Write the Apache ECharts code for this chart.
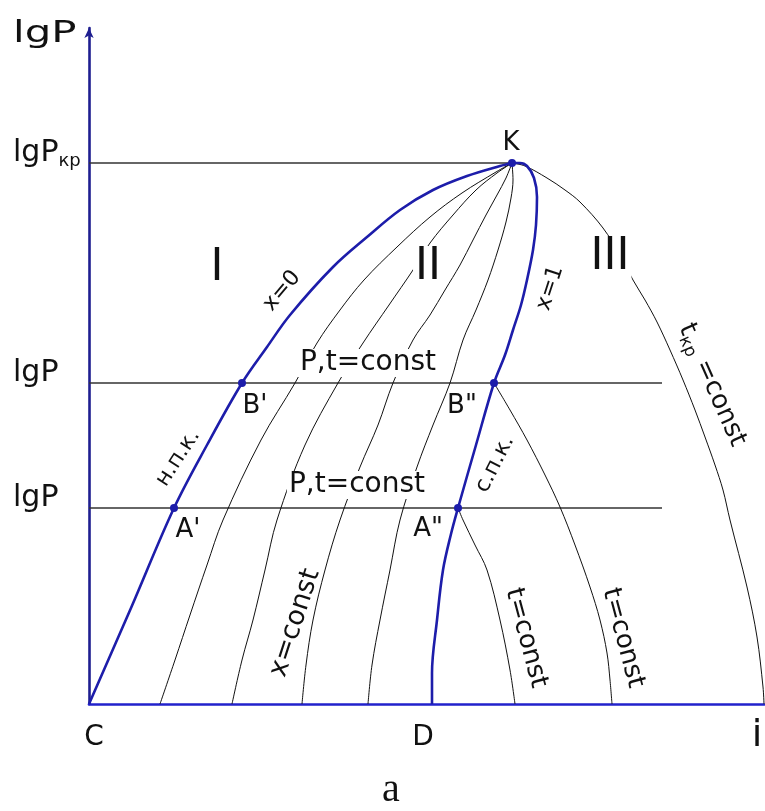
<!DOCTYPE html>
<html>
<head>
<meta charset="utf-8">
<script src="https://cdn.jsdelivr.net/npm/echarts@6/dist/echarts.min.js"></script>
<style>
  html, body { margin: 0; padding: 0; background: #fff; }
  #chart { width: 765px; height: 811px; }
</style>
</head>
<body>
<div id="chart"></div>
<script>
// lgP–i diagram of a working substance: enthalpy i (relative units) along x,
// log of pressure lgP (relative units) along y.

// saturated liquid line, x = 0 (н.п.к.), from C up to the critical point K
const boilingLine = [[0,0],[42,96],[85,196],[118,259],[153,321],[178,357],[201,389],[244,437],[278,467],[311,494],[344,514],[378,528],[411,538],[423,541]];
// dry saturated vapour line, x = 1 (с.п.к.), from D up to K
const dewLine = [[343,0],[343,31],[348,84],[354,134],[362,170],[369,196],[387,259],[405,321],[416,349],[424,374],[432,399],[438,424],[444,454],[447,479],[448,507],[445,526],[438,538],[431,541],[423,541]];
// lines of constant dryness inside the wet-vapour region
const quality1 = [[71,0],[86,44],[101,89],[118,139],[134,184],[172,264],[206,321],[228,361],[251,394],[275,424],[308,457],[341,487],[373,511],[407,532],[423,541]];
const quality2 = [[143,0],[153,44],[164,84],[176,134],[188,184],[216,259],[249,321],[274,361],[300,399],[324,434],[341,461],[364,489],[387,514],[408,531],[423,541]];
const quality3 = [[213,0],[217,39],[224,84],[236,134],[251,184],[271,237],[289,279],[304,321],[324,364],[341,389],[356,414],[371,439],[384,464],[397,489],[408,509],[417,526],[423,541]];
const quality4 = [[279,0],[283,39],[291,84],[301,134],[311,184],[328,237],[344,279],[361,321],[374,364],[387,394],[399,424],[409,454],[417,482],[422,506],[424,524],[423,541]];
// isotherms in the superheated region
const isothermLow = [[369,196],[374,184],[386,159],[398,134],[411,84],[421,34],[426,0]];
const isothermHigh = [[405,321],[421,294],[438,264],[456,229],[471,197],[486,159],[501,117],[511,84],[518,51],[521,24],[523,0]];
const criticalIsotherm = [[423,541],[436,538],[458,526],[476,514],[491,502],[514,476],[531,449],[544,424],[556,404],[568,382],[581,354],[594,324],[606,294],[616,267],[626,239],[634,214],[641,184],[658,117],[668,67],[674,17],[675,0]];

// isobars: lgP level and the enthalpy where each line stops
const isobarLevels = [196, 321, 541];
const isobarEnds = [573, 573, 423];

// enthalpy marks on the i axis
const iMarks = [0, 343, 675];
const iMarkNames = ['C', 'D', 'i'];

// state points on the saturation lines
const statePoints = [[85,196],[153,321],[369,196],[405,321],[423,541]];

// captions placed in diagram coordinates: text, i, lgP
const notes = [
  ['K', 422, 561],
  ['I', 128, 435],
  ['II', 339, 436],
  ['III', 521, 446],
  ['x=0', 193, 413],
  ['x=1', 461, 416],
  ['н.п.к.', 89, 246],
  ['с.п.к.', 406, 240],
  ['P,t=const', 279, 341],
  ['P,t=const', 268, 219],
  ["B'", 166, 298],
  ["A'", 99, 174],
  ['B"', 373, 298],
  ['A"', 339, 175],
  ['x=const', 206, 81],
  ['t=const', 437, 66],
  ['t=const', 534, 66],
  ['tкр=const', 623, 319]
];

const FONT = 'DejaVu Sans';
const INK = '#111';
const BLUE = '#1d1daa';

const noteLook = {
  'K':         { fontSize: 26 },
  'I':         { fontSize: 44 },
  'II':        { fontSize: 44, bg: true },
  'III':       { fontSize: 44, bg: true },
  'x=0':       { fontSize: 22, rotate: 50 },
  'x=1':       { fontSize: 22, rotate: 72 },
  'н.п.к.':    { fontSize: 22, rotate: 57 },
  'с.п.к.':    { fontSize: 22, rotate: 63 },
  'P,t=const': { fontSize: 28, bg: true },
  "B'":        { fontSize: 26 },
  "A'":        { fontSize: 26 },
  'B"':        { fontSize: 26 },
  'A"':        { fontSize: 26 },
  'x=const':   { fontSize: 27, rotate: 72 },
  't=const':   { fontSize: 26, rotate: -75 },
  'tкр=const': { fontSize: 26, rotate: -66, rich: true }
};

function noteItem(n) {
  const look = noteLook[n[0]];
  const label = {
    show: true,
    position: 'inside',
    color: INK,
    fontFamily: FONT,
    fontSize: look.fontSize,
    rotate: look.rotate || 0,
    formatter: n[0]
  };
  if (look.bg) {
    label.backgroundColor = '#fff';
    label.padding = [0, 2];
  }
  if (look.rich) {
    label.formatter = '{m|t}{s|кр}{m| =const}';
    label.rich = {
      m: { fontSize: 26, fontFamily: FONT, color: INK, lineHeight: 30 },
      s: { fontSize: 17, fontFamily: FONT, color: INK, lineHeight: 30, padding: [14, 0, 0, 0] }
    };
  }
  return { value: [n[1], n[2]], label };
}

function curve(data, bold) {
  return {
    type: 'line',
    data,
    showSymbol: false,
    smooth: 0.35,
    silent: true,
    z: bold ? 4 : 2,
    lineStyle: bold ? { color: BLUE, width: 2.6 } : { color: INK, width: 1 }
  };
}

const series = [
  curve(quality1), curve(quality2), curve(quality3), curve(quality4),
  curve(isothermLow), curve(isothermHigh), curve(criticalIsotherm),
  curve(boilingLine, true), curve(dewLine, true)
];

isobarLevels.forEach((lvl, k) => {
  series.push({
    type: 'line',
    data: [[0, lvl], [isobarEnds[k], lvl]],
    showSymbol: false,
    silent: true,
    z: 1,
    lineStyle: { color: '#333', width: 1.5 }
  });
});

series.push({
  type: 'scatter',
  data: statePoints,
  symbol: 'circle',
  symbolSize: 8,
  itemStyle: { color: BLUE, opacity: 1 },
  silent: true,
  z: 6
});

series.push({
  type: 'scatter',
  data: notes.map(noteItem),
  symbolSize: 0,
  itemStyle: { opacity: 1 },
  silent: true,
  z: 5
});

const chart = echarts.init(document.getElementById('chart'));
chart.setOption({
  animation: false,
  backgroundColor: '#fff',
  grid: { left: 89, top: 28, width: 675, height: 676, containLabel: false, outerBoundsMode: 'none' },
  xAxis: {
    type: 'value',
    min: 0,
    max: 675,
    splitLine: { show: false },
    axisTick: { show: false },
    axisLine: { show: true, onZero: false, lineStyle: { color: '#2222cc', width: 2.6 } },
    axisLabel: {
      customValues: iMarks,
      margin: 20,
      color: INK,
      formatter: v => {
        const k = iMarks.indexOf(v);
        return '{' + ['c', 'd', 'e'][k] + '|' + iMarkNames[k] + '}';
      },
      rich: {
        c: { fontSize: 28, fontFamily: FONT, color: INK, lineHeight: 28, padding: [0, 0, 0, 10] },
        d: { fontSize: 28, fontFamily: FONT, color: INK, lineHeight: 28, padding: [0, 18, 0, 0] },
        e: { fontSize: 38, fontFamily: FONT, color: INK, lineHeight: 38, padding: [0, 14, 14, 0] }
      }
    }
  },
  yAxis: {
    type: 'value',
    min: 0,
    max: 676,
    splitLine: { show: false },
    axisTick: { show: false },
    axisLine: {
      show: true,
      onZero: false,
      symbol: ['none', 'arrow'],
      symbolSize: [7, 10],
      lineStyle: { color: '#1e1e90', width: 2.6 }
    },
    axisLabel: {
      customValues: isobarLevels,
      align: 'left',
      margin: 76,
      padding: [0, 0, 20, 0],
      formatter: v => (v === 541 ? '{m|lgP}{s|кр}' : '{m|lgP}'),
      rich: {
        m: { fontSize: 30, fontFamily: FONT, color: INK, lineHeight: 34 },
        s: { fontSize: 18, fontFamily: FONT, color: INK, lineHeight: 34, padding: [16, 0, 0, 0] }
      }
    }
  },
  graphic: [
    {
      type: 'text',
      x: 13,
      y: 34,
      scaleX: 1.35,
      silent: true,
      style: { text: 'lgP', fontSize: 31, fontFamily: FONT, fill: INK, align: 'left', verticalAlign: 'middle' }
    },
    {
      type: 'text',
      x: 391,
      y: 790,
      silent: true,
      style: { text: 'a', fontSize: 40, fontFamily: 'Liberation Serif', fill: INK, align: 'center', verticalAlign: 'middle' }
    }
  ],
  series
});
</script>
</body>
</html>
